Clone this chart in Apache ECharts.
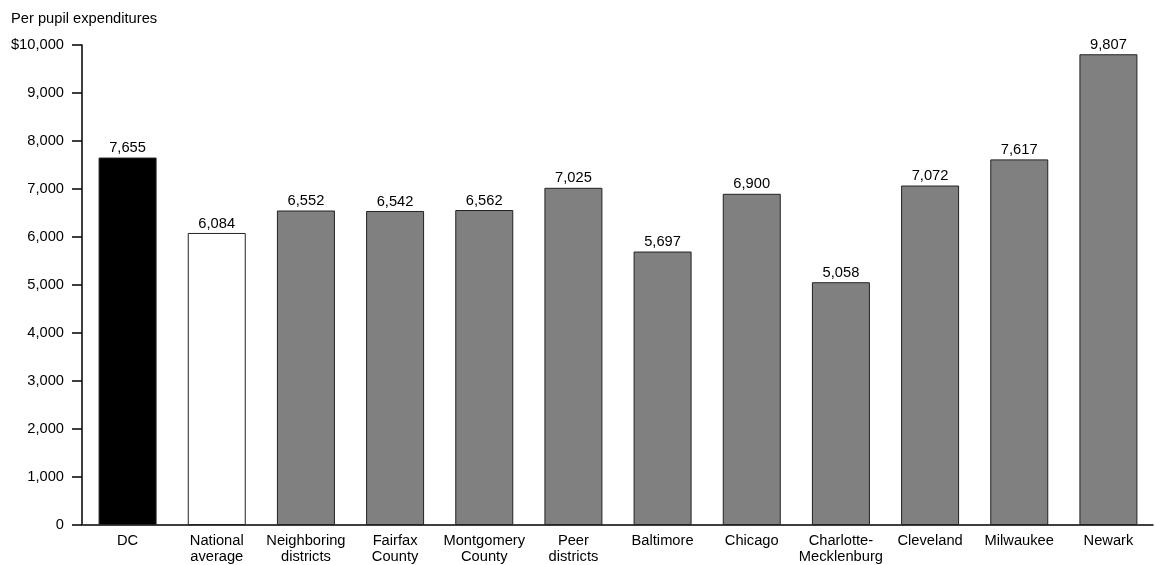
<!DOCTYPE html>
<html><head><meta charset="utf-8">
<script src="https://cdn.jsdelivr.net/npm/echarts@6/dist/echarts.min.js"></script>
<style>html,body{margin:0;padding:0;background:#fff}#c{width:1156px;height:565px}</style>
</head><body><div id="c"></div>
<script>
const categories = ["DC","National\naverage","Neighboring\ndistricts","Fairfax\nCounty","Montgomery\nCounty","Peer\ndistricts","Baltimore","Chicago","Charlotte-\nMecklenburg","Cleveland","Milwaukee","Newark"];
const values = [7655,6084,6552,6542,6562,7025,5697,6900,5058,7072,7617,9807];
const barColors = ["#000000","#ffffff","#808080","#808080","#808080","#808080","#808080","#808080","#808080","#808080","#808080","#808080"];
const yTitle = "Per pupil expenditures";

const font = "Liberation Sans, Arial, sans-serif";
const fs = 14.7;
const chart = echarts.init(document.getElementById('c'));
chart.setOption({
  animation:false,
  backgroundColor:'#fff',
  title:{text:yTitle,left:6,top:6,textStyle:{fontFamily:font,fontSize:fs,fontWeight:'normal',color:'#000'}},
  grid:{left:83,right:3,top:45,bottom:37},
  xAxis:{type:'category',data:categories,
    axisLine:{lineStyle:{color:'#000',width:1.5}},
    axisTick:{show:false},
    axisLabel:{interval:0,color:'#000',fontFamily:font,fontSize:fs,lineHeight:16,margin:8}},
  yAxis:{type:'value',min:0,max:10000,interval:1000,offset:1,
    splitLine:{show:false},
    axisLine:{show:true,lineStyle:{color:'#000',width:1.5}},
    axisTick:{show:true,length:10,lineStyle:{color:'#000',width:1.5}},
    axisLabel:{color:'#000',fontFamily:font,fontSize:fs,margin:18,
      formatter:v=>{const s=v.toLocaleString('en-US');return v===10000?'$'+s:s;}}},
  series:[{type:'bar',barWidth:58,
    data:values.map((v,i)=>({value:v,itemStyle:{color:barColors[i],borderColor:'#222',borderWidth:1}})),
    label:{show:true,position:'top',distance:2,color:'#000',fontFamily:font,fontSize:fs,
      formatter:p=>p.value.toLocaleString('en-US')}}]
});
</script></body></html>
